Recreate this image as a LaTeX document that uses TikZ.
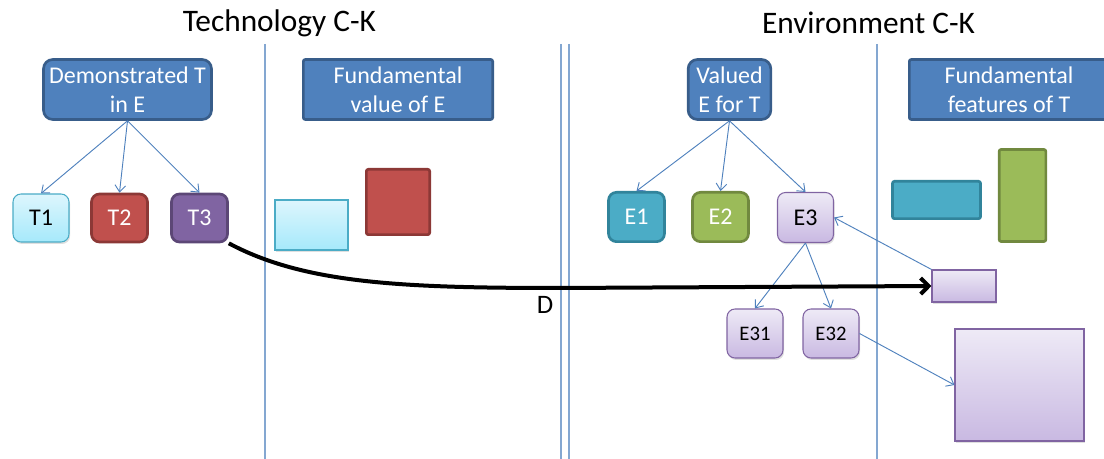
\documentclass[tikz,border=0pt]{standalone}
\usepackage{fontspec}
\setmainfont{Carlito}
\usetikzlibrary{arrows.meta}
\usetikzlibrary{shadows}
\definecolor{hdrblue}{HTML}{4F81BD}
\definecolor{hdrdark}{HTML}{385D8A}
\definecolor{aquafill}{HTML}{4BACC6}
\definecolor{aquadark}{HTML}{31849B}
\definecolor{aqualight}{HTML}{DDF6FD}
\definecolor{aquamid}{HTML}{A6E9FB}
\definecolor{redfill}{HTML}{C0504D}
\definecolor{reddark}{HTML}{8C3836}
\definecolor{purplefill}{HTML}{8064A2}
\definecolor{purpledark}{HTML}{5C4776}
\definecolor{greenfill}{HTML}{9BBB59}
\definecolor{greendark}{HTML}{71893F}
\definecolor{lavlight}{HTML}{EEEAF6}
\definecolor{lavmid}{HTML}{C9B9E2}

\begin{document}
\begin{tikzpicture}[x=0.75pt,y=-0.75pt,
	hdr/.style={draw=hdrdark, line width=2pt, fill=hdrblue, text=white, align=center, inner sep=2pt,
		font=\fontsize{18}{21.6}\selectfont, minimum height=45pt},
	tbox/.style={rounded corners=6pt, line width=2pt, text=white, inner sep=1pt,
		font=\fontsize{18}{21.6}\selectfont, minimum width=42pt, minimum height=36pt},
	lavbox/.style={draw=purplefill, line width=0.8pt, top color=lavlight, bottom color=lavmid,
		drop shadow={opacity=0.25, shadow xshift=0.8pt, shadow yshift=-1.5pt}},
	aquabox/.style={draw=aquafill, line width=0.8pt, top color=aqualight, bottom color=aquamid,
		drop shadow={opacity=0.25, shadow xshift=0.8pt, shadow yshift=-1.5pt}},
	plain/.style={line width=2pt, minimum width=0pt, minimum height=0pt, inner sep=0pt},
	link/.style={draw=hdrblue, line width=0.7pt, -{Straight Barb[length=5pt,width=8pt]}},
	sep/.style={draw=hdrblue!70, line width=0.8pt},
	title/.style={font=\fontsize{23.5}{27}\selectfont}]
	% page
	\clip (0,0) rectangle (1104,459);
	
	% titles
	\node[title] (ttech) at (279.5,23) {Technology C-K};
	\node[title] (tenv) at (868.5,23) {Environment C-K};
	\node[font=\fontsize{20}{24}\selectfont] (dlabel) at (545,305) {D};
	
	% separators
	\draw[sep] (265,44) -- (265,459);
	\draw[sep] (561,44) -- (561,459);
	\draw[sep] (569,44) -- (569,459);
	\draw[sep] (877,44) -- (877,459);
	
	% technology side
	\node[hdr, rounded corners=7pt, minimum width=126pt] (demo) at (127.5,89.5) {Demonstrated T\\in E};
	\node[tbox, aquabox, text=black, line width=0.8pt] (t1) at (41,218) {T1};
	\node[tbox, draw=reddark, fill=redfill] (t2) at (119.5,218) {T2};
	\node[tbox, draw=purpledark, fill=purplefill] (t3) at (199.5,218) {T3};
	\draw[link] (demo.south) -- (t1.north);
	\draw[link] (demo.south) -- (t2.north);
	\draw[link] (demo.south) -- (t3.north);
	
	\node[hdr, rounded corners=1.5pt, minimum width=142pt] (fundE) at (398,89.5) {Fundamental\\value of E};
	\node[aquabox, minimum width=54.75pt, minimum height=37.5pt, inner sep=0pt] (aquarect) at (311.5,225) {};
	\node[plain, draw=reddark, fill=redfill, rounded corners=1.5pt, minimum width=47.5pt, minimum height=49pt] (redsq) at (398,202) {};
	
	% environment side
	\node[hdr, rounded corners=7pt, minimum width=62pt] (valued) at (729.5,89.5) {Valued\\E for T};
	\node[tbox, draw=aquadark, fill=aquafill, minimum height=37pt] (e1) at (636.5,217) {E1};
	\node[tbox, draw=greendark, fill=greenfill, minimum height=37pt] (e2) at (720.5,217) {E2};
	\node[tbox, lavbox, text=black, minimum height=37.5pt] (e3) at (805.5,217.5) {E3};
	\node[tbox, lavbox, text=black, font=\fontsize{15.5}{18}\selectfont, minimum height=36.75pt] (e31) at (755,333.5) {E31};
	\node[tbox, lavbox, text=black, font=\fontsize{15.5}{18}\selectfont, minimum height=36.75pt] (e32) at (831,333.5) {E32};
	\draw[link] (valued.south) -- (e1.north);
	\draw[link] (valued.south) -- (e2.north);
	\draw[link] (valued.south) -- (e3.north);
	\draw[link] (e3.south) -- (e31.north);
	\draw[link] (e3.south) -- (e32.north);
	
	\node[hdr, rounded corners=1.5pt, minimum width=149.5pt] (fundT) at (1009,89.5) {Fundamental\\features of T};
	\node[plain, draw=aquadark, fill=aquafill, rounded corners=1.5pt, minimum width=66pt, minimum height=28pt] (aquabar) at (936.5,200) {};
	\node[plain, draw=greendark, fill=greenfill, rounded corners=1.5pt, minimum width=35pt, minimum height=69pt] (greenbar) at (1022.5,195.5) {};
	\node[lavbox, minimum width=48pt, minimum height=24pt, inner sep=0pt] (smallrect) at (964,286) {};
	\node[lavbox, minimum width=96.75pt, minimum height=84pt, inner sep=0pt] (bigsq) at (1019.5,385) {};
	\draw[link] (smallrect.north west) -- (e3.east);
	\draw[link] (e32.east) -- (bigsq.west);
	
	% the D arrow
	\coordinate (bend) at (560,288);
	\draw[line width=3pt, -{Straight Barb[length=6pt,width=12pt]}] (t3.south east) .. controls +(75,40) and +(-160,0) .. (bend) -- (smallrect.west);
\end{tikzpicture}
\end{document}
